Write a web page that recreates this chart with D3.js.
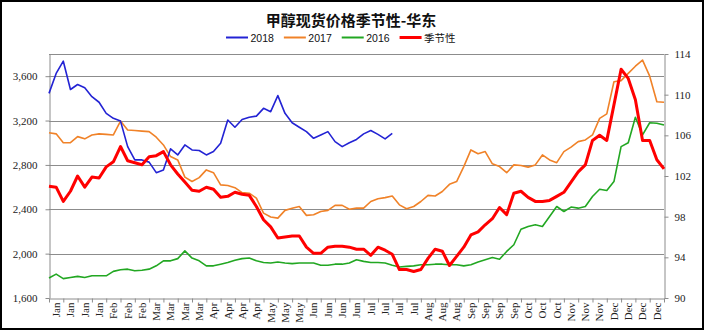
<!DOCTYPE html>
<html><head><meta charset="utf-8">
<script src="https://cdn.jsdelivr.net/npm/d3@7/dist/d3.min.js"></script>
<style>body{margin:0;background:#fff}svg{display:block}</style>
</head><body><svg id="c" width="704" height="330"></svg>
<script>
// ---------- data ----------
const title = "甲醇现货价格季节性-华东";
const monthLabels = [
  "Jan","Jan","Jan","Jan","Feb","Feb","Feb","Mar","Mar","Mar","Mar",
  "Apr","Apr","Apr","Apr","May","May","May","Jun","Jun","Jun","Jun",
  "Jul","Jul","Jul","Jul","Aug","Aug","Aug","Sep","Sep","Sep","Sep",
  "Oct","Oct","Oct","Nov","Nov","Nov","Dec","Dec","Dec","Dec"];
const leftTicks = [1600, 2000, 2400, 2800, 3200, 3600];
const rightTicks = [90, 94, 98, 102, 106, 110, 114];
const seriesNames = ["2018", "2017", "2016", "季节性"];

const s2018 = [3445,3625,3735,3480,3525,3495,3415,3365,3265,3220,
  3195,2965,2845,2845,2825,2730,2755,2945,2890,2980,
  2935,2930,2890,2920,2995,3205,3140,3210,3230,3240,
  3310,3280,3425,3265,3180,3140,3100,3040,3070,3100,
  3010,2965,3000,3030,3080,3110,3075,3035,3085];
const s2017 = [3090,3080,3000,3000,3055,3035,3070,3080,3075,3070,
  3195,3115,3110,3105,3100,3050,2980,2875,2845,2690,
  2650,2685,2755,2730,2620,2615,2595,2550,2545,2500,
  2365,2330,2320,2390,2410,2425,2345,2350,2380,2390,
  2435,2435,2400,2410,2410,2470,2495,2505,2520,2440,
  2405,2425,2470,2525,2520,2560,2625,2650,2785,2935,
  2900,2920,2810,2785,2730,2800,2795,2780,2800,2890,
  2845,2820,2920,2960,3010,3025,3070,3220,3260,3550,
  3560,3625,3690,3745,3600,3370,3365];
const s2016 = [1780,1815,1775,1785,1795,1785,1800,1800,1800,1840,
  1855,1860,1845,1850,1860,1890,1935,1935,1955,2025,
  1960,1935,1890,1890,1905,1920,1940,1955,1960,1935,
  1920,1915,1925,1915,1910,1915,1915,1915,1895,1895,
  1905,1905,1915,1945,1930,1920,1920,1915,1895,1880,
  1885,1890,1900,1900,1905,1905,1900,1900,1890,1900,
  1925,1945,1965,1950,2020,2080,2220,2245,2260,2245,
  2335,2425,2380,2420,2410,2425,2515,2580,2570,2650,
  2965,3000,3230,3070,3180,3175,3160];
const seasonal = [101.0,100.9,99.5,100.5,102.0,100.9,101.9,101.8,102.9,103.4,
  104.9,103.5,103.3,103.1,103.9,104.0,104.4,103.1,102.2,101.4,
  100.6,100.5,100.9,100.7,99.9,100.0,100.4,100.2,100.1,99.0,
  97.7,97.0,95.9,96.0,96.1,96.1,95.0,94.4,94.4,95.0,
  95.1,95.1,95.0,94.8,94.8,94.2,95.0,94.7,94.3,92.8,
  92.8,92.6,92.8,93.9,94.8,94.6,93.2,94.1,95.0,96.2,
  96.5,97.2,97.8,98.9,98.2,100.3,100.5,99.9,99.5,99.5,
  99.6,100.0,100.4,101.4,102.4,103.1,105.5,106.0,105.5,109.0,
  112.5,111.6,109.5,105.5,105.5,103.6,102.7];

// ---------- layout ----------
const W = 704, H = 330;
const m = {l: 49, r: 664, t: 54, b: 298};
const colors = ["#2323d4", "#f08228", "#22a722", "#ff0000"];
const widths = [1.6, 1.6, 1.6, 3];
const serif = "'Liberation Serif','Times New Roman',serif";
const sans = "'Liberation Sans',Arial,'Noto Sans CJK SC',sans-serif";

const svg = d3.select("#c");
svg.append("rect").attr("x", 0).attr("y", 0).attr("width", W).attr("height", H).attr("fill", "#fff");

const nPts = s2017.length;
const xi = d3.scaleLinear().domain([0, nPts - 1]).range([m.l, m.r]);
const xb = d3.scaleBand().domain(d3.range(monthLabels.length)).range([m.l, m.r]);
const xt = d3.scaleLinear().domain([0, monthLabels.length]).range([m.l, m.r]);
const yL = d3.scaleLinear().domain([1600, 3800]).range([m.b, m.t]);
const yR = d3.scaleLinear().domain([90, 114]).range([m.b, m.t]);

// gridlines
svg.append("g").selectAll("line").data(leftTicks.slice(1).concat([3800])).join("line")
  .attr("x1", m.l).attr("x2", m.r)
  .attr("y1", d => Math.round(yL(d)) + 0.5).attr("y2", d => Math.round(yL(d)) + 0.5)
  .attr("stroke", "#8c8c8c").attr("stroke-width", 1);

function styleAxis(g) {
  g.selectAll(".domain").attr("stroke", "#8c8c8c");
  g.selectAll(".tick line").attr("stroke", "#8c8c8c");
  g.selectAll("text").attr("fill", "#222").style("font-family", serif).style("font-size", "11px");
}

// left axis
svg.append("g").attr("transform", `translate(${m.l + 0.5},0)`)
  .call(d3.axisLeft(yL).tickValues(leftTicks).tickFormat(d3.format(",")).tickSize(4).tickPadding(8).tickSizeOuter(0))
  .call(styleAxis);

// right axis
svg.append("g").attr("transform", `translate(${m.r + 0.5},0)`)
  .call(d3.axisRight(yR).tickValues(rightTicks).tickSize(4).tickPadding(6).tickSizeOuter(0))
  .call(styleAxis);

// bottom axis: tick marks
svg.append("g").attr("transform", `translate(0,${m.b + 0.5})`)
  .call(d3.axisBottom(xt).tickValues(d3.range(monthLabels.length + 1)).tickFormat("").tickSize(4).tickSizeOuter(0))
  .call(styleAxis);
// bottom axis: labels
const gx = svg.append("g").attr("transform", `translate(0,${m.b + 0.5})`)
  .call(d3.axisBottom(xb).tickFormat(i => monthLabels[i]).tickSize(0).tickSizeOuter(0))
  .call(styleAxis);
gx.select(".domain").remove();
gx.selectAll("text").attr("transform", "rotate(-90)").attr("x", -4).attr("y", 0)
  .attr("dy", "0.35em").attr("text-anchor", "end");

// lines
const lineL = d3.line().x((d, i) => xi(i)).y(d => yL(d));
const lineR = d3.line().x((d, i) => xi(i)).y(d => yR(d));
const plotted = [[s2016, lineL, 2], [s2017, lineL, 1], [s2018, lineL, 0], [seasonal, lineR, 3]];
plotted.forEach(([data, gen, k]) => {
  svg.append("path").datum(data).attr("d", gen)
    .attr("fill", "none").attr("stroke", colors[k]).attr("stroke-width", widths[k])
    .attr("stroke-linejoin", "round");
});

// title
svg.append("text").attr("x", 351).attr("y", 19).attr("text-anchor", "middle")
  .attr("dominant-baseline", "central")
  .style("font-family", "'Noto Sans CJK SC',sans-serif").style("font-size", "15px").style("font-weight", "bold")
  .attr("fill", "#111").text(title);

// legend
const lg = svg.append("g");
let lx = 226;
const ly = 37.5;
seriesNames.forEach((name, k) => {
  lg.append("line").attr("x1", lx).attr("x2", lx + 22).attr("y1", ly).attr("y2", ly)
    .attr("stroke", colors[k]).attr("stroke-width", k === 3 ? 3 : 2);
  const t = lg.append("text").attr("x", lx + 24.5).attr("y", ly).attr("dominant-baseline", "central")
    .style("font-family", sans).style("font-size", "10.5px").attr("fill", "#111").text(name);
  lx += 24.5 + t.node().getComputedTextLength() + 10;
});

// outer frame
svg.append("rect").attr("x", 1).attr("y", 1).attr("width", W - 2).attr("height", H - 2)
  .attr("fill", "none").attr("stroke", "#000").attr("stroke-width", 2);
</script></body></html>
